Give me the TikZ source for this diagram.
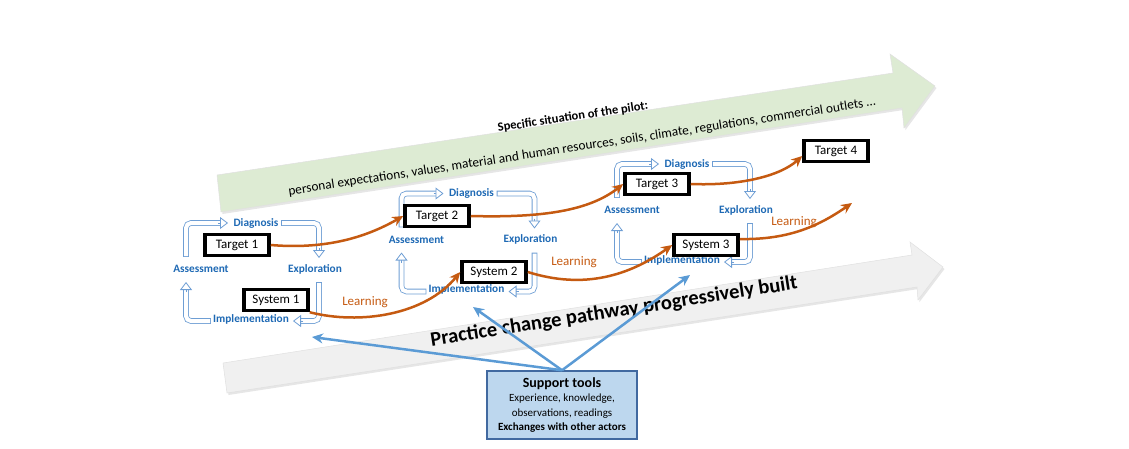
\documentclass[tikz,border=0pt]{standalone}
\usepackage{fontspec}
\setmainfont{Carlito}
\usetikzlibrary{positioning, arrows.meta, shadows}
\definecolor{cycblue}{RGB}{110,158,212}
\definecolor{phaseblue}{RGB}{30,105,180}
\definecolor{learnorange}{RGB}{197,90,17}
\definecolor{toolblue}{RGB}{91,155,213}
\definecolor{toolfill}{RGB}{189,215,238}
\definecolor{tooldraw}{RGB}{65,105,160}
\definecolor{pilotgreen}{RGB}{221,235,211}
\definecolor{pathgray}{RGB}{240,240,240}
\tikzset{
  goal/.style={
    draw=black, line width=3.5pt, fill=white,
    font=\fontsize{13}{15}\selectfont,
    minimum width=64pt, minimum height=21pt, inner sep=2pt
  },
  phase/.style={text=phaseblue, font=\bfseries\fontsize{11.3}{13}\selectfont, inner sep=0pt},
  cycline/.style={draw=cycblue, line width=0.8pt, double=white, double distance=4pt,
    line cap=rect, rounded corners=5pt},
  cychead/.style={draw=cycblue, line width=0.8pt, -{Triangle[fill=white, width=12pt, length=8pt]}},
  learn/.style={-{Stealth[length=11pt, width=10pt]}, learnorange, line width=2.5pt},
  learntext/.style={text=learnorange, font=\fontsize{13}{15}\selectfont, inner sep=0pt},
  tool/.style={-{Stealth[length=11pt, width=10pt]}, toolblue, line width=2.5pt},
  toolbox/.style={
    draw=tooldraw, fill=toolfill, line width=1.5pt, align=center,
    font=\fontsize{11}{14.5}\selectfont, minimum width=150pt, minimum height=68pt, inner sep=2pt
  },
  bigarrow/.style={draw=black!12, line width=0.5pt,
    drop shadow={opacity=0.2, shadow xshift=1.5pt, shadow yshift=-2pt}}
}

\begin{document}
\begin{tikzpicture}[x=1pt, y=-1pt]
  \useasboundingbox (0,0) rectangle (1129,448);

  % context and pathway arrows
  \path[bigarrow, fill=pilotgreen] (217,175) -- (893,73) -- (890,54) -- (935,86)
    -- (904,128) -- (902,108) -- (221,212) -- cycle;
  \path[bigarrow, fill=pathgray] (223,363) -- (912,255) -- (910,242) -- (943,267)
    -- (918,300) -- (917,287) -- (227,393) -- cycle;

  \node[rotate=8.7, font=\bfseries\fontsize{12.5}{15}\selectfont, inner sep=0pt] (pilothead) at (573,117) {Specific situation of the pilot:};
  \node[rotate=8.7, font=\fontsize{13.3}{15}\selectfont, inner sep=0pt] (pilotbody) at (582,147) {personal expectations, values, material and human resources, soils, climate, regulations, commercial outlets \dots};
  \node[rotate=8.9, font=\bfseries\fontsize{20.5}{24}\selectfont, inner sep=0pt] (pathway) at (614,312) {Practice change pathway progressively built};

  % the three cycles
  \foreach \i/\cx/\cy in {1/186/223, 2/401.5/193.5, 3/617/164}{
    \begin{scope}[shift={(\cx,\cy)}]
      \node[phase] (diag\i) at (70,0) {Diagnosis};
      \node[phase] (asse\i) at (15,46) {Assessment};
      \node[phase] (expl\i) at (129,46) {Exploration};
      \node[phase] (impl\i) at (65,96) {Implementation};
      \draw[cycline] (0,31) |- (33,0);
      \draw[cychead] (32,0) -- (42,0);
      \draw[cycline] (98,0) -| (133,26);
      \draw[cychead] (133,25) -- (133,35);
      \draw[cycline] (133,62) |- (116,98);
      \draw[cychead] (117,98) -- (107,98);
      \draw[cycline] (22,98) -| (0,68);
      \draw[cychead] (0,69) -- (0,59);
    \end{scope}
  }

  % targets and systems
  \node[goal] (tgt1) at (237,245) {Target 1};
  \node[goal] (tgt2) at (437,216) {Target 2};
  \node[goal] (tgt3) at (657,184) {Target 3};
  \node[goal] (tgt4) at (836,151) {Target 4};
  \node[goal] (sys1) at (276,300) {System 1};
  \node[goal] (sys2) at (494,272) {System 2};
  \node[goal] (sys3) at (706,245) {System 3};
  \coordinate (lend) at (852,203);

  \draw[learn] (tgt1.east) .. controls (330,250) and (370,235) .. (tgt2.west);
  \draw[learn] (tgt2.east) .. controls (545,218) and (590,210) .. (tgt3.west);
  \draw[learn] (tgt3.east) .. controls (740,186) and (780,176) .. ([yshift=-5pt]tgt4.west);
  \draw[learn] (sys1.south east) .. controls (360,325) and (425,315) .. (sys2.west);
  \draw[learn] (sys2.east) .. controls (585,290) and (630,275) .. (sys3.west);
  \draw[learn] ([yshift=6pt]sys3.east) .. controls (790,240) and (820,225) .. (lend);

  \node[learntext] (learn1) at (365,302) {Learning};
  \node[learntext] (learn2) at (574,262) {Learning};
  \node[learntext] (learn3) at (794,222) {Learning};

  % support tools
  \node[toolbox] (tools) at (562,405) {{\bfseries\fontsize{14}{16}\selectfont Support tools}\\Experience, knowledge,\\observations, readings\\\textbf{Exchanges with other actors}};
  \coordinate (aim1) at (312,337);
  \coordinate (aim2) at (473,307);
  \coordinate (aim3) at (690,275);
  \draw[tool] (tools.north) -- (aim1);
  \draw[tool] (tools.north) -- (aim2);
  \draw[tool] (tools.north) -- (aim3);
\end{tikzpicture}
\end{document}
